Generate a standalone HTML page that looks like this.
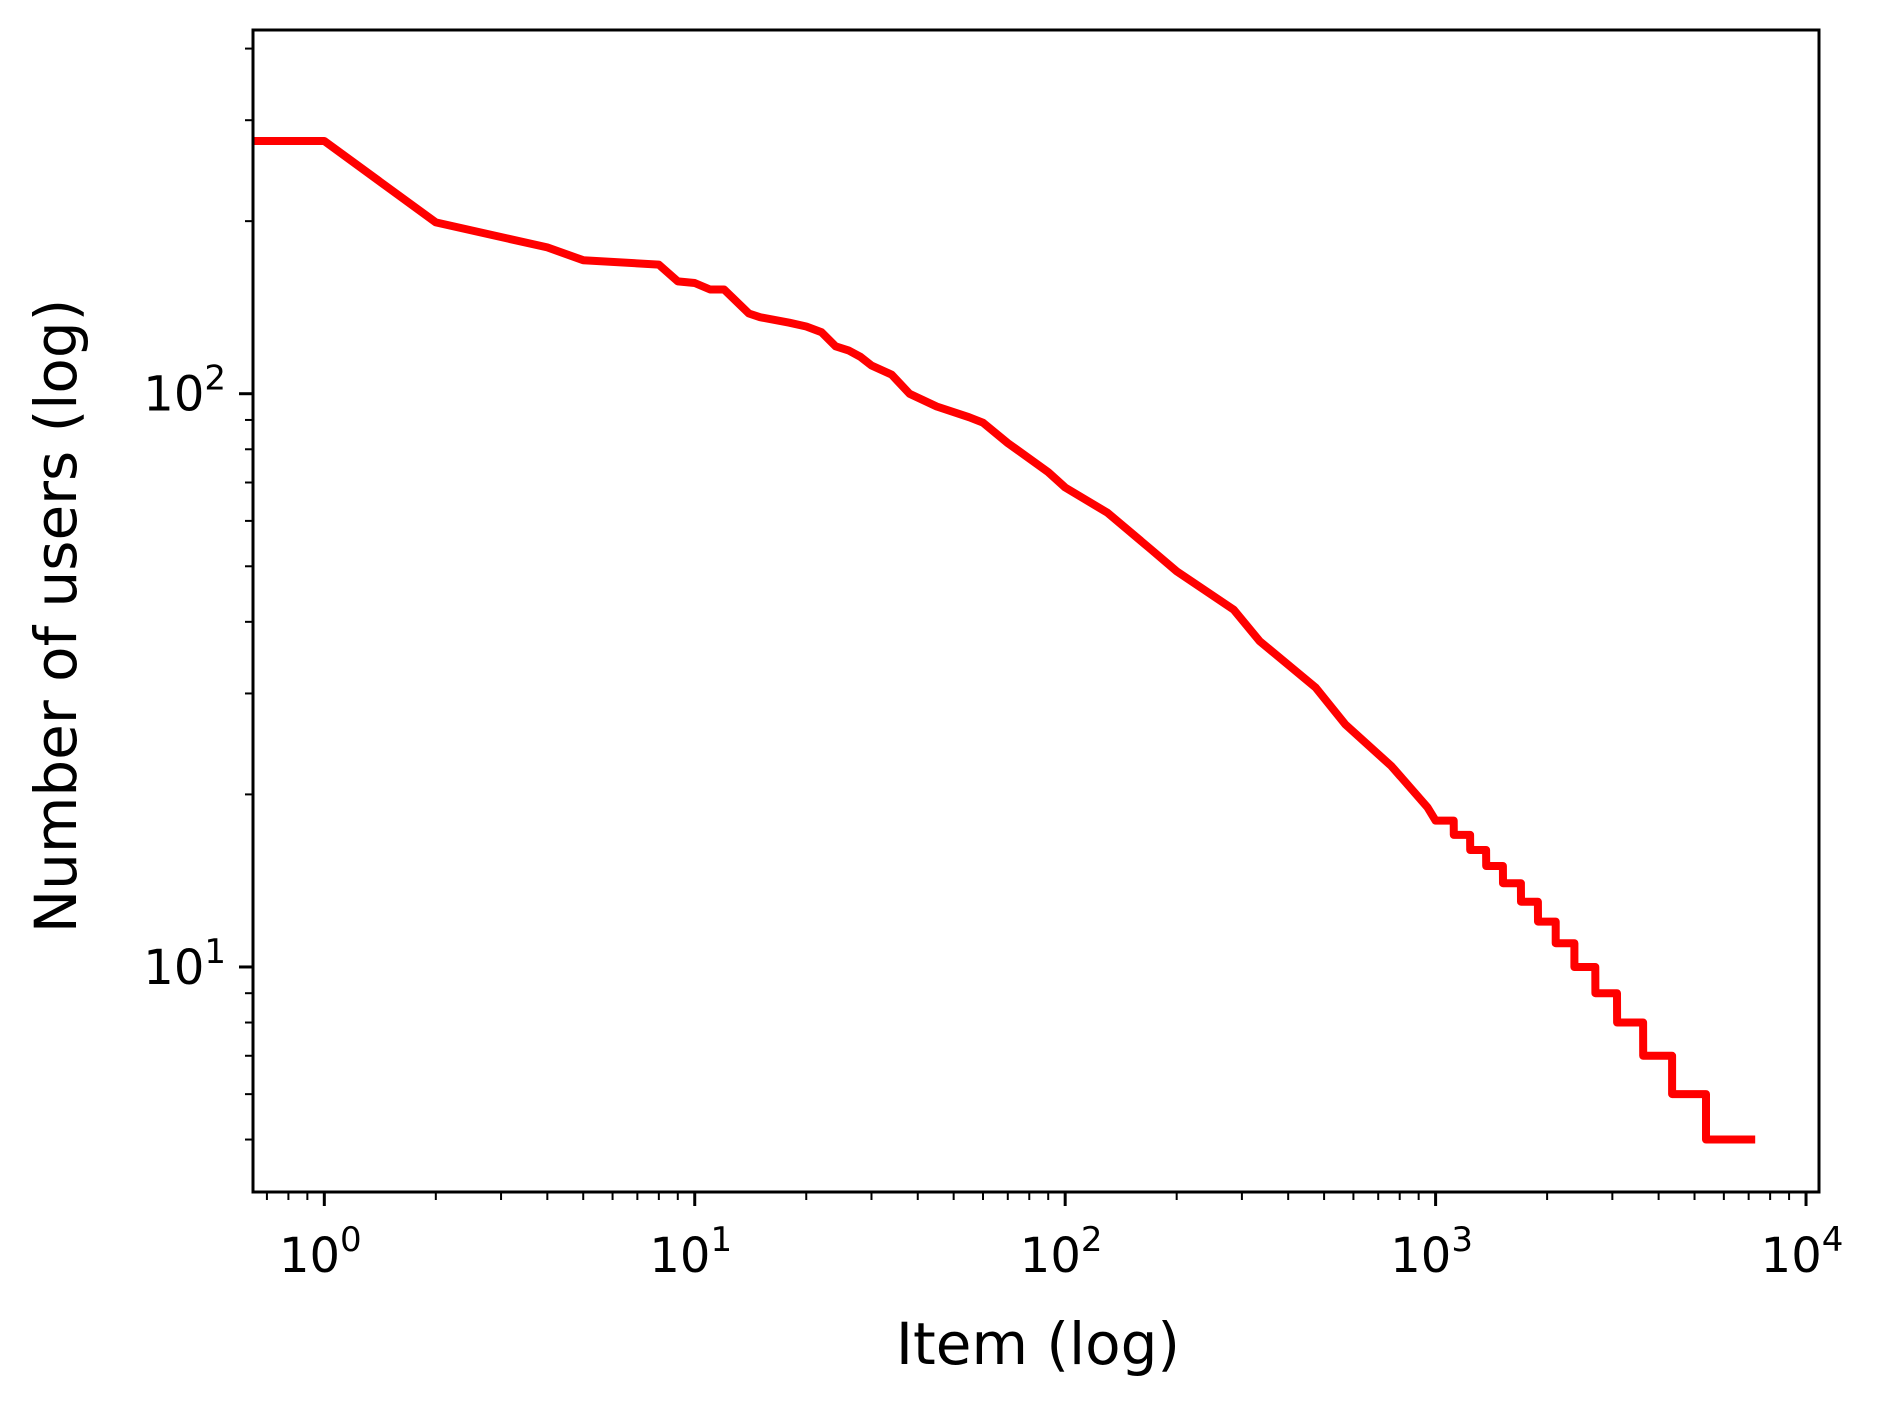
<!DOCTYPE html>
<html><head><meta charset="utf-8"><style>
html,body{margin:0;padding:0;background:#fff;}
svg{display:block;font-family:"DejaVu Sans","Liberation Sans",sans-serif;}
</style></head><body>
<svg id="chart" width="1883" height="1403" viewBox="0 0 1883 1403" xmlns="http://www.w3.org/2000/svg">
<rect width="1883" height="1403" fill="#fff"/>
<g id="ticks"></g>
<path id="series" fill="none" stroke="#ff0000" stroke-width="8" stroke-linejoin="round" stroke-linecap="square" clip-path="url(#clip)"/>
<clipPath id="clip"><rect x="253" y="30" width="1566" height="1162"/></clipPath>
<rect x="253" y="30" width="1566" height="1162" fill="none" stroke="#000" stroke-width="3"/>
<text x="1038" y="1364" font-size="58" text-anchor="middle">Item (log)</text>
<text transform="translate(76,616) rotate(-90)" font-size="58" text-anchor="middle">Number of users (log)</text>
</svg>
<script>
const denseRanks = [0.6,1,2,4,5,8,9,10,11,12,14,15,18,20,22,24,26,28,30,34,38,45,55,60,70,90,100,130,170,200,285,335,475,570,760,950];
const denseUsers = [276,276,199,180,171,168,157,156,152,152,138,136,133,131,128,121,119,116,112,108,100,95,91,89,82,73,68.6,62,53.6,49,42,37,30.7,26.5,22.4,19];
const levelCounts = [18,17,16,15,14,13,12,11,10,9,8,7,6,5];
const levelStarts = [1000,1120,1240,1370,1520,1700,1890,2110,2370,2700,3090,3634,4350,5370];
const lastRank = 7110;
const xTickLabels = ["0","1","2","3","4"];
const yTickLabels = ["1","2"];

const X0=253,X1=1819,Y0=30,Y1=1192;
const xLogMin=-0.1925,xLogMax=4.035;
const yLogMin=Math.log10(4.05),yLogMax=Math.log10(431);
function sx(v){return X0+(Math.log10(v)-xLogMin)/(xLogMax-xLogMin)*(X1-X0);}
function sy(v){return Y1-(Math.log10(v)-yLogMin)/(yLogMax-yLogMin)*(Y1-Y0);}

const pts=[];
for(let i=0;i<denseRanks.length;i++)pts.push([sx(denseRanks[i]),sy(denseUsers[i])]);
for(let i=0;i<levelCounts.length;i++){
  const s=levelStarts[i];
  const e=i+1<levelStarts.length?levelStarts[i+1]-1:lastRank;
  pts.push([sx(s),sy(levelCounts[i])]);
  pts.push([sx(e),sy(levelCounts[i])]);
}
document.getElementById('series').setAttribute('d','M'+pts.map(p=>p[0].toFixed(1)+','+p[1].toFixed(1)).join('L'));

const NS="http://www.w3.org/2000/svg";
const g=document.getElementById('ticks');
function line(x1,y1,x2,y2,w,name){
  const l=document.createElementNS(NS,'line');
  l.setAttribute('x1',x1);l.setAttribute('y1',y1);l.setAttribute('x2',x2);l.setAttribute('y2',y2);
  l.setAttribute('stroke','#000');l.setAttribute('stroke-width',w);
  
  
  g.appendChild(l);
}
function label(x,y,exp,anchor,name){
  const t=document.createElementNS(NS,'text');
  t.setAttribute('x',x);t.setAttribute('y',y);t.setAttribute('font-size','48');t.setAttribute('text-anchor',anchor);
  
  
  const a=document.createElementNS(NS,'tspan');a.textContent='10';t.appendChild(a);
  const b=document.createElementNS(NS,'tspan');b.setAttribute('dy','-21');b.setAttribute('font-size','34');b.textContent=exp;t.appendChild(b);
  g.appendChild(t);
}
for(let d=-1;d<=4;d++){
  for(let m=1;m<10;m++){
    const v=m*Math.pow(10,d);const lv=Math.log10(v);
    if(lv<xLogMin||lv>xLogMax)continue;
    const x=sx(v);
    if(m===1){line(x,Y1,x,Y1+14,3,'x-major-tick');}
    else line(x,Y1,x,Y1+8,2,'x-minor-tick');
  }
}
xTickLabels.forEach(e=>{label(sx(Math.pow(10,+e))-4,1272,e,'middle','x-tick-label');});
for(let d=0;d<=2;d++){
  for(let m=1;m<10;m++){
    const v=m*Math.pow(10,d);const lv=Math.log10(v);
    if(lv<yLogMin||lv>yLogMax)continue;
    const y=sy(v);
    if(m===1)line(X0-14,y,X0,y,3,'y-major-tick');
    else line(X0-8,y,X0,y,2,'y-minor-tick');
  }
}
yTickLabels.forEach(e=>{label(226,sy(Math.pow(10,+e))+17,e,'end','y-tick-label');});
</script>
</body></html>
